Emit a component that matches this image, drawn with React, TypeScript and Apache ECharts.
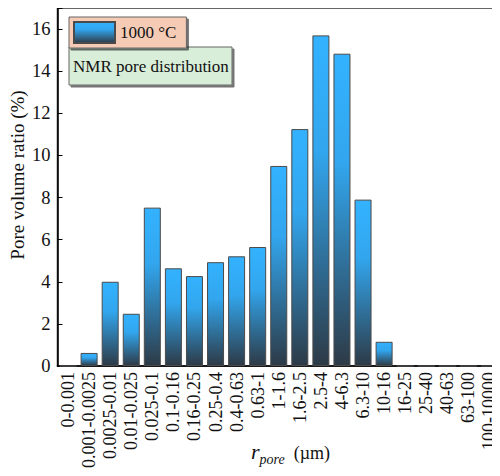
import React, { useEffect, useRef } from "react";
import * as echarts from "echarts";

const categories = [
  "0-0.001", "0.001-0.0025", "0.0025-0.01", "0.01-0.025", "0.025-0.1",
  "0.1-0.16", "0.16-0.25", "0.25-0.4", "0.4-0.63", "0.63-1", "1-1.6",
  "1.6-2.5", "2.5-4", "4-6.3", "6.3-10", "10-16", "16-25", "25-40",
  "40-63", "63-100", "100-10000",
];
const poreVolume = [
  0, 0.62, 4.0, 2.48, 7.52, 4.64, 4.27, 4.93, 5.21, 5.65, 9.5, 11.25,
  15.7, 14.83, 7.9, 1.15, 0, 0, 0, 0, 0,
];
const seriesName = "1000 °C";
const noteText = "NMR pore distribution";
const yTitle = "Pore volume ratio (%)";

const FONT = "'Liberation Serif', 'Times New Roman', serif";

export default function App() {
  const ref = useRef<HTMLDivElement>(null);
  useEffect(() => {
    if (!ref.current) return;
    const chart = echarts.init(ref.current, undefined, { renderer: "svg" });
    const grad = new echarts.graphic.LinearGradient(0, 0, 0, 1, [
      { offset: 0, color: "#33B2FF" },
      { offset: 0.35, color: "#32A6EE" },
      { offset: 1, color: "#2D3A46" },
    ]);
    chart.setOption({
      animation: false,
      textStyle: { fontFamily: FONT },
      grid: {
        left: 57.5,
        top: 8,
        bottom: 110,
        width: 445,
        show: true,
        borderColor: "#333",
        borderWidth: 1.5,
        containLabel: false,
      },
      legend: {
        left: 69,
        top: 17,
        orient: "vertical",
        padding: [4, 10, 4, 4],
        itemWidth: 41,
        itemHeight: 21,
        backgroundColor: "#F5CBB5",
        borderColor: "#666",
        borderWidth: 1,
        shadowColor: "rgba(0,0,0,0.55)",
        shadowOffsetX: 2,
        shadowOffsetY: 2,
        shadowBlur: 0,
        textStyle: { fontFamily: FONT, fontSize: 17, color: "#111" },
        data: [{ name: seriesName, icon: "rect" }],
      },
      xAxis: {
        type: "category",
        data: categories,
        boundaryGap: true,
        axisLine: { lineStyle: { color: "#000", width: 1.5 } },
        axisTick: { inside: true, length: 5, alignWithLabel: true, lineStyle: { color: "#000" } },
        axisLabel: {
          interval: 0,
          rotate: 90,
          margin: 6,
          fontFamily: FONT,
          fontSize: 18,
          color: "#111",
        },
      },
      yAxis: {
        type: "value",
        min: 0,
        max: 17,
        interval: 2,
        splitLine: { show: false },
        axisLine: { show: true, lineStyle: { color: "#000", width: 1.5 } },
        axisTick: { show: true, inside: true, length: 5, lineStyle: { color: "#000" } },
        axisLabel: {
          margin: 7,
          fontFamily: FONT,
          fontSize: 18.5,
          color: "#111",
          formatter: (v: number) => (v > 16 ? "" : String(v)),
        },
      },
      series: [
        {
          name: seriesName,
          type: "bar",
          data: poreVolume,
          barWidth: 17,
          itemStyle: { color: grad, borderColor: "#4a4a4a", borderWidth: 1 },
        },
      ],
      graphic: [
        {
          type: "rect",
          shape: { x: 69, y: 47, width: 163, height: 38 },
          style: {
            fill: "#D9EED9",
            stroke: "#666",
            lineWidth: 1,
            shadowColor: "rgba(0,0,0,0.55)",
            shadowOffsetX: 2,
            shadowOffsetY: 2,
            shadowBlur: 0,
          },
        },
        {
          type: "text",
          x: 73,
          y: 66,
          style: {
            text: noteText,
            fontFamily: FONT,
            fontSize: 17,
            fill: "#111",
            verticalAlign: "middle",
            align: "left",
          },
        },
        {
          type: "text",
          x: 17,
          y: 175,
          rotation: Math.PI / 2,
          style: {
            text: yTitle,
            fontFamily: FONT,
            fontSize: 19,
            fill: "#111",
            align: "center",
            verticalAlign: "middle",
          },
        },
        {
          type: "text",
          x: 251,
          y: 440,
          style: {
            text: "{r|r}{p|pore}{u|  (µm)}",
            rich: {
              r: { fontFamily: FONT, fontStyle: "italic", fontSize: 22, fill: "#111", verticalAlign: "bottom" },
              p: { fontFamily: FONT, fontStyle: "italic", fontSize: 14, fill: "#111", verticalAlign: "bottom", padding: [0, 0, -4, 0] },
              u: { fontFamily: FONT, fontSize: 18, fill: "#111", verticalAlign: "bottom" },
            },
          },
        },
      ],
    });
    return () => chart.dispose();
  }, []);
  return <div ref={ref} style={{ width: 500, height: 476, margin: -8 }} />;
}
